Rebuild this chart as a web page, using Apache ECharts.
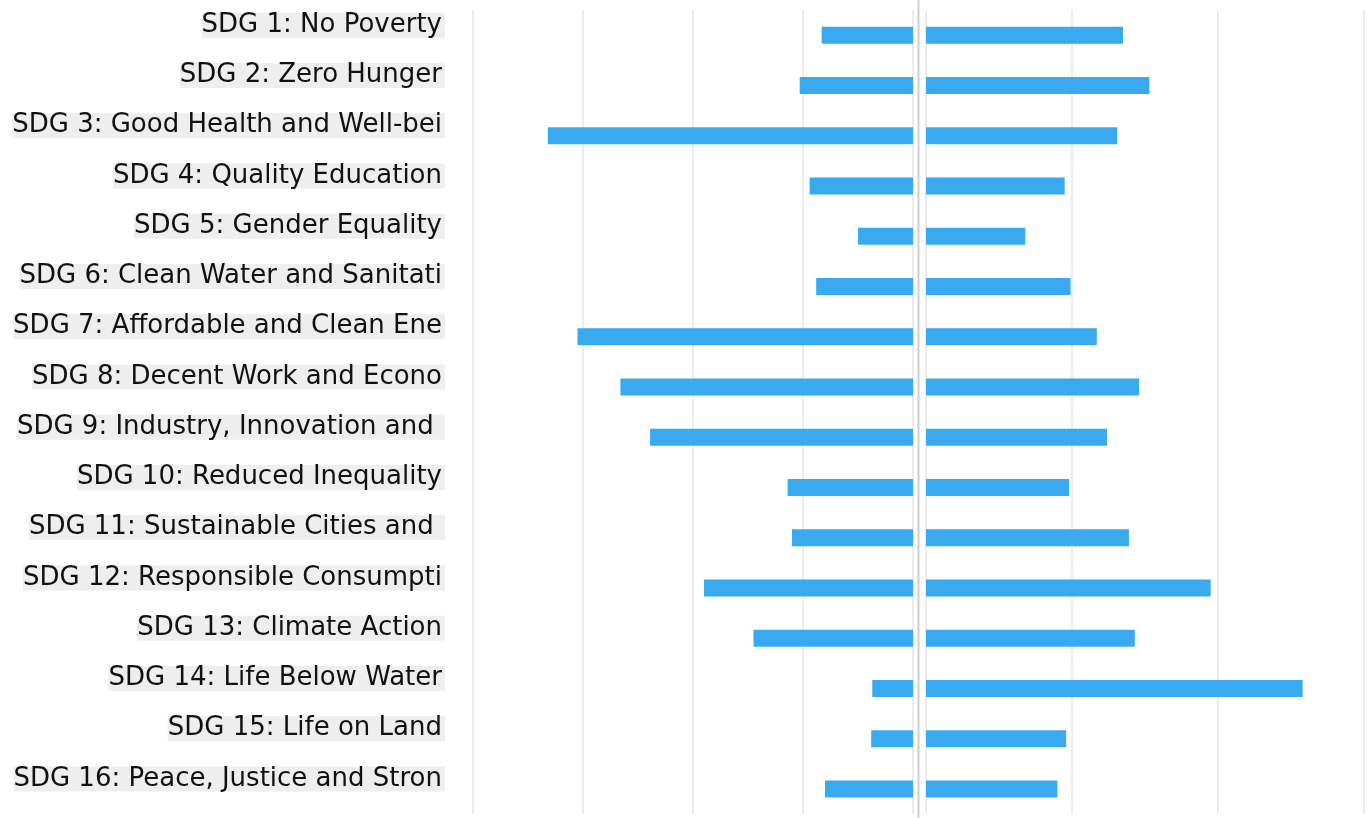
<!DOCTYPE html>
<html>
<head>
<meta charset="utf-8">
<script src="https://cdn.jsdelivr.net/npm/echarts@6/dist/echarts.min.js"></script>
<style>
  html, body { margin: 0; padding: 0; background: #fff; }
  #chart { width: 1369px; height: 818px; }
</style>
</head>
<body>
<div id="chart"></div>
<script>
// categories, top to bottom
var goals = [
  'SDG 1: No Poverty',
  'SDG 2: Zero Hunger',
  'SDG 3: Good Health and Well-being',
  'SDG 4: Quality Education',
  'SDG 5: Gender Equality',
  'SDG 6: Clean Water and Sanitation',
  'SDG 7: Affordable and Clean Energy',
  'SDG 8: Decent Work and Economic Growth',
  'SDG 9: Industry, Innovation and Infrastructure',
  'SDG 10: Reduced Inequality',
  'SDG 11: Sustainable Cities and Communities',
  'SDG 12: Responsible Consumption and Production',
  'SDG 13: Climate Action',
  'SDG 14: Life Below Water',
  'SDG 15: Life on Land',
  'SDG 16: Peace, Justice and Strong Institutions'
]

// left half (drawn leftwards) and right half values
var leftValues  = [8.3, 10.3, 33.2, 9.4, 5.0, 8.8, 30.5, 26.6, 23.9, 11.4, 11.0, 19.0, 14.5, 3.7, 3.8, 8.0]
var rightValues = [13.5, 15.3, 13.1, 9.5, 6.8, 9.9, 11.7, 14.6, 12.4, 9.8, 13.9, 19.5, 14.3, 25.8, 9.6, 9.0]

var labelFont = '26px "DejaVu Sans"'
var barColor = '#3aaaf0'
var gridColor = '#e6e6e6'

var chart = echarts.init(document.getElementById('chart'))

chart.setOption({
  animation: false,
  grid: [
    { left: 473, top: 10, width: 440, height: 804 },   // left bars
    { left: 926, top: 10, width: 438, height: 804 },   // right bars
    { left: 473, top: 0, width: 1, height: 804 }       // labels only
  ],
  xAxis: [
    {
      gridIndex: 0, type: 'value', inverse: true, min: 0, max: 40, interval: 10,
      axisLabel: { show: false }, axisLine: { show: false }, axisTick: { show: false },
      splitLine: { show: true, lineStyle: { color: gridColor, width: 1.5 } }
    },
    {
      gridIndex: 1, type: 'value', min: 0, max: 30, interval: 10,
      axisLabel: { show: false }, axisLine: { show: false }, axisTick: { show: false },
      splitLine: { show: true, lineStyle: { color: gridColor, width: 1.5 } }
    },
    { gridIndex: 2, type: 'value', show: false }
  ],
  yAxis: [
    { gridIndex: 0, type: 'category', inverse: true, data: goals, show: false },
    { gridIndex: 1, type: 'category', inverse: true, data: goals, show: false },
    {
      gridIndex: 2, type: 'category', inverse: true, data: goals,
      axisLine: { show: false }, axisTick: { show: false }, splitLine: { show: false },
      axisLabel: {
        margin: 28,
        fontFamily: 'DejaVu Sans',
        fontSize: 26,
        lineHeight: 25,
        color: '#111',
        backgroundColor: '#eeeeee',
        padding: [0, 3, 0, 0],
        formatter: function (v) {
          return echarts.format.truncateText(v, 434, labelFont, '')
        }
      }
    }
  ],
  graphic: [{
    type: 'line',
    shape: { x1: 918.5, y1: 0, x2: 918.5, y2: 818 },
    style: { stroke: '#cfcfcf', lineWidth: 2 },
    silent: true
  }],
  series: [
    {
      type: 'bar', xAxisIndex: 0, yAxisIndex: 0, data: leftValues,
      barWidth: 17, itemStyle: { color: barColor }
    },
    {
      type: 'bar', xAxisIndex: 1, yAxisIndex: 1, data: rightValues,
      barWidth: 17, itemStyle: { color: barColor }
    }
  ]
})
</script>
</body>
</html>
